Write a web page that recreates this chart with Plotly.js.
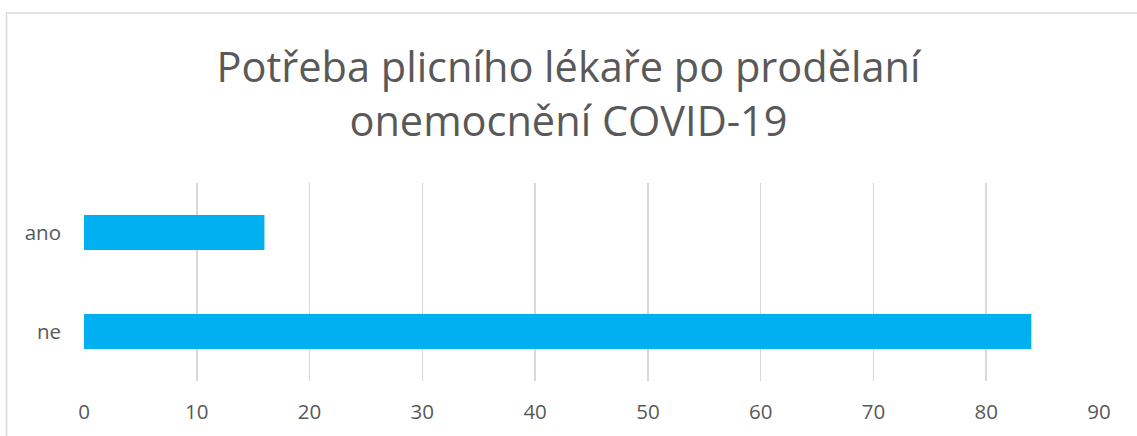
<!DOCTYPE html>
<html>
<head>
<meta charset="utf-8">
<script src="https://cdn.plot.ly/plotly-3.0.1.min.js"></script>
<style>
html,body{margin:0;padding:0;background:#fff;}
#chart{width:1137px;height:436px;}
</style>
</head>
<body>
<div id="chart"></div>
<script>
const categories = ["ne", "ano"];
const values = [84, 16];
const tickValues = [0, 10, 20, 30, 40, 50, 60, 70, 80, 90];
const titleLines = ["Potřeba plicního lékaře po prodělaní", "onemocnění COVID-19"];

const W = 1137, H = 436;
const margin = {l: 84, r: 38, t: 183, b: 55, pad: 0};
const pw = W - margin.l - margin.r, ph = H - margin.t - margin.b;
// border lines (top & left) of the chart frame, in paper coords
const px = x => (x - margin.l) / pw;
const py = y => (H - margin.b - y) / ph;

const trace = {
  type: "bar",
  orientation: "h",
  x: values,
  y: categories,
  marker: {color: "#00b0f0"},
  hoverinfo: "x+y"
};

const layout = {
  width: W, height: H,
  margin: margin,
  paper_bgcolor: "#ffffff",
  plot_bgcolor: "#ffffff",
  font: {family: "Open Sans, sans-serif", color: "#595959", size: 20},
  title: {
    text: titleLines.join("<br>"),
    font: {family: "Open Sans, sans-serif", size: 41.5, color: "#595959"},
    x: 0.5, xref: "container", xanchor: "center",
    y: 1 - 82 / H, yref: "container", yanchor: "middle"
  },
  bargap: 0.646,
  showlegend: false,
  xaxis: {
    range: [0, 90],
    tickvals: tickValues,
    ticktext: tickValues.map(String),
    showgrid: true,
    gridcolor: "#d9d9d9",
    gridwidth: 1.5,
    zeroline: false,
    showline: false,
    ticks: "",
    ticklabelstandoff: 16,
    tickfont: {size: 20.5, color: "#595959"},
    fixedrange: true
  },
  yaxis: {
    categoryorder: "array",
    categoryarray: categories,
    showgrid: false,
    zeroline: false,
    showline: false,
    ticks: "",
    ticklabelstandoff: 22,
    tickfont: {size: 20.5, color: "#595959"},
    fixedrange: true
  },
  shapes: [
    {type: "line", xref: "paper", yref: "paper", x0: px(6), x1: px(W + 5), y0: py(13), y1: py(13),
     line: {color: "#d9d9d9", width: 1.5}},
    {type: "line", xref: "paper", yref: "paper", x0: px(6.5), x1: px(6.5), y0: py(13), y1: py(H + 5),
     line: {color: "#d9d9d9", width: 1.5}}
  ]
};

Plotly.newPlot("chart", [trace], layout, {displayModeBar: false, staticPlot: true});
</script>
</body>
</html>
